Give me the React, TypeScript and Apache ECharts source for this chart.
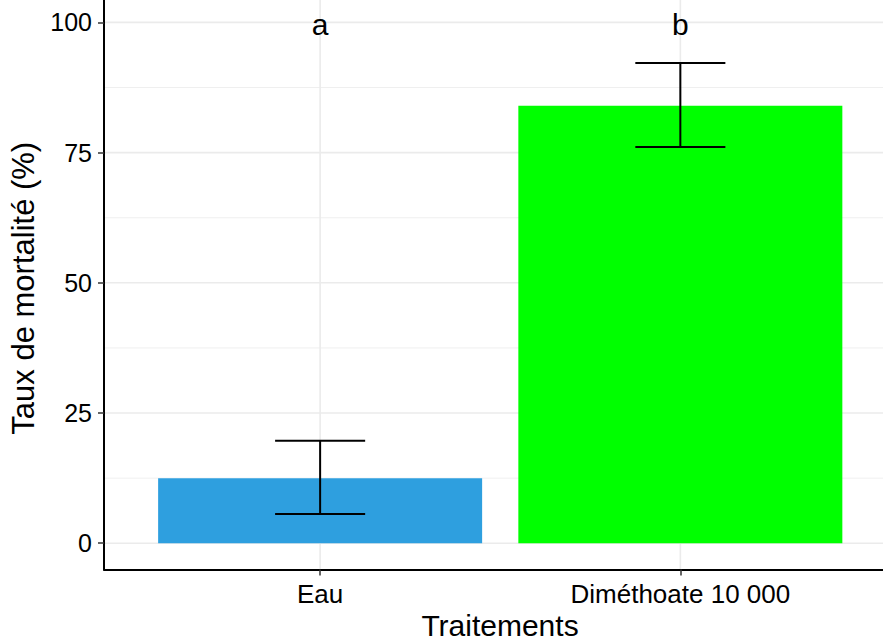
import React, { useEffect, useRef } from "react";
import * as echarts from "echarts";

const categories = ["Eau", "Diméthoate 10 000"];
const meanValues = [12.5, 84.0];
const lowerValues = [5.6, 76.1];
const upperValues = [19.7, 92.2];
const groupLetters = ["a", "b"];
const barColors = ["#2E9FDF", "#00FF00"];
const yTicks = [0, 25, 50, 75, 100];
const yMinorTicks = [12.5, 37.5, 62.5, 87.5];
const xTitle = "Traitements";
const yTitle = "Taux de mortalité (%)";

const FONT = "Liberation Sans, Arial, sans-serif";

export default function App() {
  const ref = useRef<HTMLDivElement>(null);
  useEffect(() => {
    document.body.style.margin = "0";
    const chart = echarts.init(ref.current!, null, { renderer: "svg" });
    const xs = categories.map((_, i) => i + 1);
    const gridColor = "#EBEBEB";
    // grid line data: [orientation (0 = horizontal, 1 = vertical), value, major flag]
    const gridLineData = [
      ...yMinorTicks.map((v) => [0, v, 0]),
      ...yTicks.map((v) => [0, v, 1]),
      ...xs.map((v) => [1, v, 1]),
    ];
    const option: any = {
      animation: false,
      backgroundColor: "#FFFFFF",
      textStyle: { fontFamily: FONT },
      grid: { left: 104, right: 0, top: 0, bottom: 71.5, containLabel: false, outerBoundsMode: "none" },
      graphic: [
        {
          type: "text",
          x: 500,
          y: 640.5,
          silent: true,
          style: {
            text: xTitle,
            font: "30px Liberation Sans, Arial, sans-serif",
            fill: "#000",
            align: "center",
            verticalAlign: "bottom",
          },
        },
      ],
      xAxis: {
        type: "value",
        min: 0.4,
        max: 2.5626,
        axisLine: { show: true, onZero: false, lineStyle: { color: "#000", width: 2 } },
        axisTick: { show: true, customValues: xs, length: 6, lineStyle: { color: "#333", width: 1.5 } },
        axisLabel: {
          customValues: xs,
          margin: 11,
          fontSize: 26,
          color: "#000",
          fontFamily: FONT,
          formatter: (v: number) => categories[Math.round(v) - 1] ?? "",
        },
        splitLine: { show: false },
      },
      yAxis: {
        type: "value",
        min: -5.04,
        max: 104.3,
        name: yTitle,
        nameLocation: "middle",
        nameGap: 64,
        nameTextStyle: { fontSize: 31, color: "#000", fontFamily: FONT, padding: [0, 7, 0, 0] },
        axisLine: { show: true, onZero: false, lineStyle: { color: "#000", width: 2 } },
        axisTick: { show: true, customValues: yTicks, length: 6, lineStyle: { color: "#333", width: 1.5 } },
        axisLabel: {
          customValues: yTicks,
          margin: 12,
          fontSize: 25,
          color: "#000",
          fontFamily: FONT,
        },
        splitLine: { show: false },
      },
      series: [
        {
          type: "custom",
          z: 0,
          silent: true,
          clip: true,
          data: gridLineData,
          renderItem: (params: any, api: any) => {
            const cs = params.coordSys;
            const orient = api.value(0);
            const v = api.value(1);
            const lw = api.value(2) ? 1.6 : 0.8;
            const style = { stroke: gridColor, lineWidth: lw };
            if (orient === 0) {
              const y = api.coord([1, v])[1];
              return { type: "line", shape: { x1: cs.x, y1: y, x2: cs.x + cs.width, y2: y }, style };
            }
            const x = api.coord([v, 0])[0];
            return { type: "line", shape: { x1: x, y1: cs.y, x2: x, y2: cs.y + cs.height }, style };
          },
        },
        {
          type: "bar",
          z: 2,
          barWidth: 324,
          data: xs.map((x, i) => ({ value: [x, meanValues[i]], itemStyle: { color: barColors[i] } })),
        },
        {
          type: "custom",
          z: 3,
          silent: true,
          data: xs.map((x, i) => [x, lowerValues[i], upperValues[i]]),
          renderItem: (params: any, api: any) => {
            const x = api.value(0);
            const lo = api.coord([x, api.value(1)]);
            const hi = api.coord([x, api.value(2)]);
            const capL = api.coord([x - 0.125, 0])[0];
            const capR = api.coord([x + 0.125, 0])[0];
            const style = { stroke: "#000", lineWidth: 2 };
            return {
              type: "group",
              children: [
                { type: "line", shape: { x1: lo[0], y1: lo[1], x2: hi[0], y2: hi[1] }, style },
                { type: "line", shape: { x1: capL, y1: lo[1], x2: capR, y2: lo[1] }, style },
                { type: "line", shape: { x1: capL, y1: hi[1], x2: capR, y2: hi[1] }, style },
              ],
            };
          },
        },
        {
          type: "custom",
          z: 4,
          silent: true,
          data: xs.map((x) => [x, 100]),
          renderItem: (params: any, api: any) => {
            const p = api.coord([api.value(0), api.value(1)]);
            return {
              type: "text",
              x: p[0],
              y: p[1] + 2,
              style: {
                text: groupLetters[params.dataIndex],
                font: "30px Liberation Sans, Arial, sans-serif",
                fill: "#000",
                align: "center",
                verticalAlign: "middle",
              },
            };
          },
        },
      ],
    };
    chart.setOption(option);
    return () => chart.dispose();
  }, []);
  return <div ref={ref} style={{ width: 883, height: 641 }} />;
}
